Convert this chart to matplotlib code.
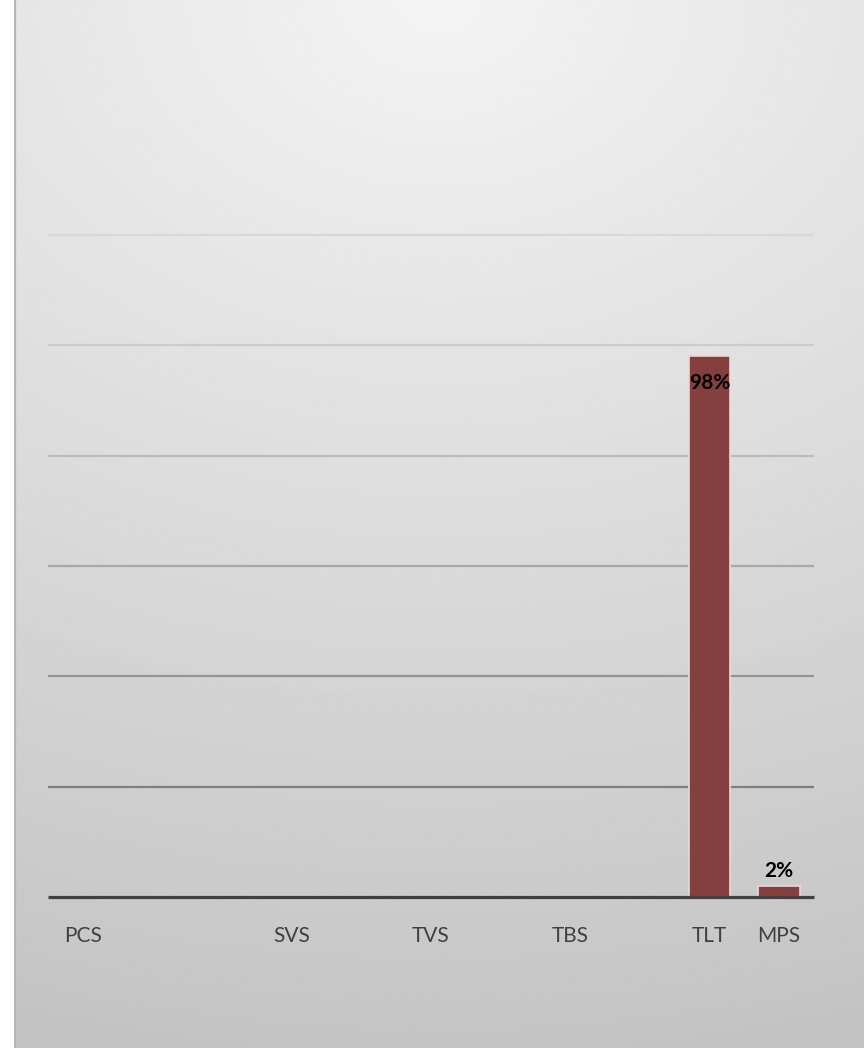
import numpy as np
import matplotlib.pyplot as plt

# categories (only some carry a label on the axis)
categories = ['PCS', '', '', 'SVS', '', 'TVS', '', 'TBS', '', 'TLT', 'MPS']
values = [0, 0, 0, 0, 0, 0, 0, 0, 0, 0.98, 0.02]
value_labels = ['', '', '', '', '', '', '', '', '', '98%', '2%']
grid_levels = [0.2, 0.4, 0.6, 0.8, 1.0, 1.2]

fig = plt.figure(figsize=(8.64, 10.48), dpi=100)
fig.patch.set_facecolor('white')

# --- background panel with soft gradient ---
W, H = 864, 1048
bg = fig.add_axes([14 / W, 0, 1 - 14 / W, 1])
xx, yy = np.meshgrid(np.linspace(0, 1, 300), np.linspace(0, 1, 300))
r = np.sqrt(((xx - 0.5) / 1.67) ** 2 + yy ** 2)
grad = 0.955 - 0.185 * r
bg.imshow(grad, cmap='gray', vmin=0, vmax=1, aspect='auto',
          extent=[0, 1, 1, 0], interpolation='bilinear')
bg.set_xlim(0, 1)
bg.set_ylim(1, 0)
bg.axis('off')
bg.axvline(0.001, color='#b4b4b4', lw=1.6)

# --- main chart ---
left, right = 48 / W, 814 / W
bottom, top = (H - 897) / H, (H - 235) / H
ax = fig.add_axes([left, bottom, right - left, top - bottom])
ax.set_facecolor('none')

x = np.arange(len(categories))
ax.set_xlim(-0.5, len(categories) - 0.5)
ax.set_ylim(0, 1.2)

grid_colors = ['#7f7f7f', '#949494', '#a8a8a8', '#bbbbbb', '#cbcbcb', '#d8d8d8']
for lvl, c in zip(grid_levels, grid_colors):
    ax.axhline(lvl, color=c, lw=1.6, zorder=0, clip_on=False,
               solid_capstyle='butt')

bars = ax.bar(x, values, width=0.6, color='#843f3f',
              edgecolor='#f0d6d6', linewidth=1.2, zorder=2)
ax.axhline(0, color='#404040', lw=2.3, zorder=3, clip_on=False,
           solid_capstyle='butt')

for xi, v, lab in zip(x, values, value_labels):
    if not lab:
        continue
    off = -27 if v > 0.5 else 15
    ax.annotate(lab, (xi, v), xytext=(0, off), textcoords='offset pixels',
                ha='center', va='center', fontsize=15, fontweight='bold',
                family='Lato', color='black', zorder=4)

ax.set_xticks(x)
ax.set_xticklabels(categories, family='Lato', fontsize=15, color='#404040')
ax.tick_params(axis='x', length=0, pad=21)
ax.set_yticks([])
for s in ax.spines.values():
    s.set_visible(False)

fig.savefig('out.png', dpi=100)
